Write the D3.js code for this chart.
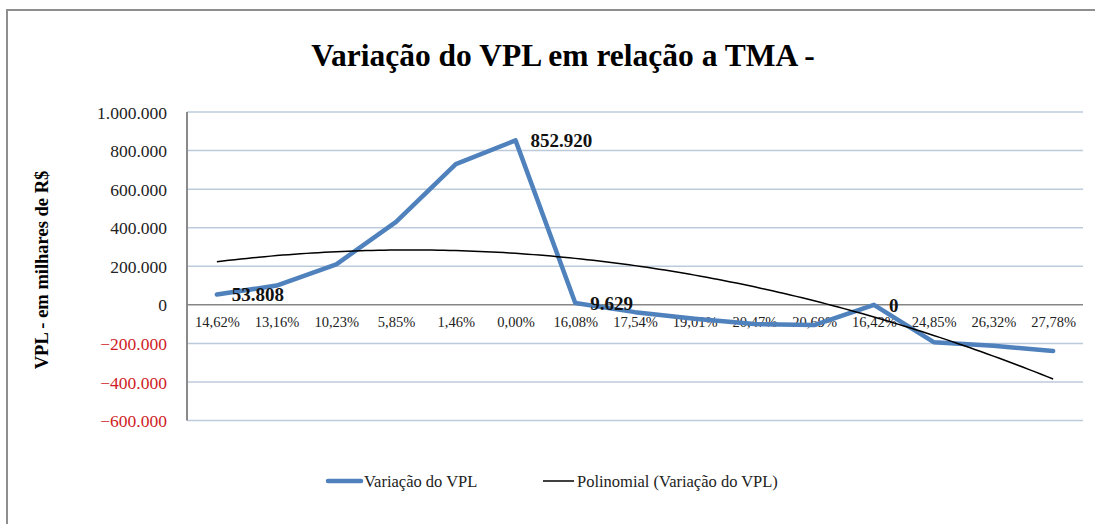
<!DOCTYPE html>
<html>
<head>
<meta charset="utf-8">
<script src="https://cdn.jsdelivr.net/npm/d3@7"></script>
<style>
  html, body { margin: 0; padding: 0; background: #fff; }
  svg { display: block; }
  svg text { font-family: "Liberation Serif", "Times New Roman", "DejaVu Serif", serif; }
</style>
</head>
<body>
<svg id="chart" width="1095" height="524"></svg>
<script>
// TMA rates (category labels) and the NPV computed at each rate
const categories = ["14,62%", "13,16%", "10,23%", "5,85%", "1,46%", "0,00%", "16,08%",
  "17,54%", "19,01%", "20,47%", "20,69%", "16,42%", "24,85%", "26,32%", "27,78%"];
const vplValues = [53808, 100000, 210000, 430000, 730000, 852920, 9629,
  -38000, -72000, -100000, -105000, 0, -194000, -212000, -240000];
// Points that carry a value label
const labeledIdx = [0, 5, 6, 11];
const yTicks = [-600000, -400000, -200000, 0, 200000, 400000, 600000, 800000, 1000000];

const svg = d3.select("#chart");
const W = 1095, H = 524;
const plot = { left: 187, right: 1083, top: 112, bottom: 420.5 };
const serif = "'Liberation Serif', 'Times New Roman', 'DejaVu Serif', serif";

// Chart frame
svg.append("rect")
  .attr("x", 7).attr("y", 10).attr("width", W + 20).attr("height", H + 20)
  .attr("fill", "#fff").attr("stroke", "#8f8f8f").attr("stroke-width", 2);

const x = d3.scalePoint().domain(categories).range([plot.left, plot.right]).padding(0.5);
const y = d3.scaleLinear().domain([-600000, 1000000]).range([plot.bottom, plot.top]);

const fmt = v => v === 0 ? "0" : d3.format(",")(v).replace(/,/g, ".");

// Title
svg.append("text")
  .attr("x", 563).attr("y", 66).attr("text-anchor", "middle")
  .style("font-family", serif)
  .attr("font-size", 31.5).attr("font-weight", "bold").attr("fill", "#000")
  .text("Variação do VPL em relação a TMA -");

// Horizontal gridlines
svg.append("g").selectAll("line").data(yTicks.filter(d => d !== 0)).join("line")
  .attr("x1", plot.left).attr("x2", plot.right)
  .attr("y1", d => y(d)).attr("y2", d => y(d))
  .attr("stroke", "#bccbdb").attr("stroke-width", 1.5);

// Y axis via d3.axisLeft, labels only
const yAxis = svg.append("g").attr("transform", `translate(${plot.left - 20},0)`)
  .call(d3.axisLeft(y).tickValues(yTicks).tickFormat(fmt).tickSize(0).tickPadding(0));
yAxis.select(".domain").remove();
yAxis.selectAll("text")
  .style("font-family", serif)
  .attr("font-size", 17.5)
  .attr("dy", "0.35em")
  .attr("fill", d => d < 0 ? "#cf1b24" : "#222");

// Left vertical axis line
svg.append("line")
  .attr("x1", plot.left).attr("x2", plot.left)
  .attr("y1", plot.top).attr("y2", plot.bottom)
  .attr("stroke", "#8a8a8a").attr("stroke-width", 2);

// Zero line (category axis)
svg.append("line")
  .attr("x1", plot.left).attr("x2", plot.right)
  .attr("y1", y(0)).attr("y2", y(0))
  .attr("stroke", "#868686").attr("stroke-width", 1.5);

// Category labels just below the zero line
const xAxis = svg.append("g").attr("transform", `translate(0,${y(0)})`)
  .call(d3.axisBottom(x).tickSize(0).tickPadding(0));
xAxis.select(".domain").remove();
xAxis.selectAll("text")
  .style("font-family", serif)
  .attr("font-size", 14.5).attr("fill", "#222")
  .attr("dy", null).attr("y", 22);

// Y axis title
svg.append("text")
  .attr("transform", "translate(48,270) rotate(-90)")
  .style("font-family", serif)
  .attr("text-anchor", "middle").attr("font-size", 18.5).attr("font-weight", "bold")
  .text("VPL - em milhares de R$");

// Main series
const line = d3.line().x((d, i) => x(categories[i])).y(d => y(d));
svg.append("path").datum(vplValues)
  .attr("d", line).attr("fill", "none")
  .attr("stroke", "#4f81bd").attr("stroke-width", 4.5)
  .attr("stroke-linejoin", "round").attr("stroke-linecap", "round");

// Second-order polynomial trendline (least squares over point index 1..n)
function quadFit(ys) {
  let s = [0, 0, 0, 0, 0], t = [0, 0, 0];
  ys.forEach((v, i) => {
    const xi = i + 1;
    for (let k = 0; k < 5; k++) s[k] += Math.pow(xi, k);
    for (let k = 0; k < 3; k++) t[k] += v * Math.pow(xi, k);
  });
  const A = [[s[0], s[1], s[2]], [s[1], s[2], s[3]], [s[2], s[3], s[4]]];
  const det = m => m[0][0] * (m[1][1] * m[2][2] - m[1][2] * m[2][1])
    - m[0][1] * (m[1][0] * m[2][2] - m[1][2] * m[2][0])
    + m[0][2] * (m[1][0] * m[2][1] - m[1][1] * m[2][0]);
  const D = det(A);
  const coef = [0, 1, 2].map(c => {
    const M = A.map((row, r) => row.map((v, j) => j === c ? t[r] : v));
    return det(M) / D;
  });
  return xi => coef[0] + coef[1] * xi + coef[2] * xi * xi;
}
const trend = quadFit(vplValues);
const step = x.step();
const x0 = x(categories[0]);
const trendPts = d3.range(1, vplValues.length + 0.001, 0.1).map(t => [x0 + (t - 1) * step, y(trend(t))]);
svg.append("path").datum(trendPts)
  .attr("d", d3.line()).attr("fill", "none")
  .attr("stroke", "#000").attr("stroke-width", 1.5);

// Value labels to the right of selected points
svg.append("g").selectAll("text").data(labeledIdx).join("text")
  .style("font-family", serif)
  .attr("x", i => x(categories[i]) + 15)
  .attr("y", i => y(vplValues[i]) + 7)
  .attr("font-size", 19).attr("font-weight", "bold").attr("fill", "#111")
  .text(i => fmt(vplValues[i]));

// Legend
const lg = svg.append("g");
lg.append("line").attr("x1", 328).attr("x2", 361).attr("y1", 481).attr("y2", 481)
  .attr("stroke", "#4f81bd").attr("stroke-width", 4.5).attr("stroke-linecap", "round");
lg.append("text").attr("x", 364).attr("y", 487).attr("font-size", 16.5).attr("fill", "#222")
  .style("font-family", serif)
  .text("Variação do VPL");
lg.append("line").attr("x1", 543).attr("x2", 574).attr("y1", 481).attr("y2", 481)
  .attr("stroke", "#000").attr("stroke-width", 1.5);
lg.append("text").attr("x", 577).attr("y", 487).attr("font-size", 16.5).attr("fill", "#222")
  .style("font-family", serif)
  .text("Polinomial (Variação do VPL)");
</script>
</body>
</html>
